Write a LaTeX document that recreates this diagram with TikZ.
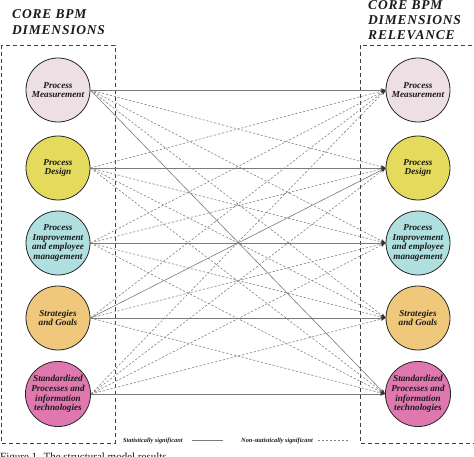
\documentclass[tikz,border=0pt]{standalone}
\usepackage{fontspec}
\setmainfont{Liberation Serif}
\newfontfamily\titlefont[LetterSpace=6]{Liberation Serif}
\usetikzlibrary{arrows.meta}
\definecolor{cMeas}{HTML}{EEDFE5}
\definecolor{cDes}{HTML}{E4DA5E}
\definecolor{cImp}{HTML}{AFDFDF}
\definecolor{cStr}{HTML}{F0C87C}
\definecolor{cStd}{HTML}{DE78AE}
\definecolor{lineg}{HTML}{7A7A7A}
\definecolor{txt}{HTML}{1A1A1A}
\tikzset{
  dim/.style={circle, draw=black!85, line width=0.8pt, minimum size=64pt, inner sep=0pt,
    align=center, font=\bfseries\itshape\fontsize{9.2}{9.6}\selectfont, text=txt},
  sig/.style={draw=lineg, line width=0.6pt, -{Stealth[length=5pt,width=3.5pt,color=black!80]}},
  nsig/.style={sig, draw=black!50, dash pattern=on 2.2pt off 1.8pt},
  dimbox/.style={draw=black!75, line width=0.6pt, dash pattern=on 4pt off 3pt},
  ttl/.style={font=\titlefont\bfseries\itshape\fontsize{13.5}{16}\selectfont, text=txt, inner sep=0pt, anchor=base west},
  leg/.style={font=\bfseries\itshape\fontsize{6.3}{7}\selectfont, text=txt, inner sep=0pt},
}
\begin{document}
\begin{tikzpicture}[x=1pt,y=-1pt]
\useasboundingbox (0,0) rectangle (474,457);
% boxes
\draw[dimbox] (1,45) rectangle (115,443);
\draw[dimbox] (360,45) rectangle (480,443);
% titles
\node[ttl] (tl1) at (12,19) {CORE BPM};
\node[ttl] (tl2) at (12,35) {DIMENSIONS};
\node[ttl] (tr1) at (368,9.5) {CORE BPM};
\node[ttl] (tr2) at (368,25) {DIMENSIONS};
\node[ttl] (tr3) at (368,40) {RELEVANCE};
% left circles
\node[dim, fill=cMeas] (L1) at (58,90) {Process\\Measurement};
\node[dim, fill=cDes] (L2) at (58,168) {Process\\Design};
\node[dim, fill=cImp] (L3) at (58,243) {Process\\Improvement\\and employee\\management};
\node[dim, fill=cStr] (L4) at (58,318) {Strategies\\and Goals};
\node[dim, fill=cStd] (L5) at (58,394) {Standardized\\Processes and\\information\\technologies};
% right circles
\node[dim, fill=cMeas] (R1) at (418,90) {Process\\Measurement};
\node[dim, fill=cDes] (R2) at (418,168) {Process\\Design};
\node[dim, fill=cImp] (R3) at (418,243) {Process\\Improvement\\and employee\\management};
\node[dim, fill=cStr] (R4) at (418,318) {Strategies\\and Goals};
\node[dim, fill=cStd] (R5) at (418,394) {Standardized\\Processes and\\information\\technologies};
% non-significant
\foreach \a/\b in {1/2,1/3,1/4, 2/1,2/3,2/4,2/5, 3/1,3/2,3/4,3/5, 4/1,4/3,4/5, 5/1,5/2,5/3,5/4}
  \draw[nsig] (L\a.east) -- (R\b.west);
% significant
\foreach \a/\b in {1/1,2/2,3/3,4/4,5/5,1/5,4/2}
  \draw[sig] (L\a.east) -- (R\b.west);
% legend
\node[leg, anchor=base west] (ls) at (123,442) {Statistically significant};
\coordinate (ls1) at (192,440);
\coordinate (ls2) at (223,440);
\draw[draw=lineg, line width=0.6pt] (ls1) -- (ls2);
\node[leg, anchor=base west] (ln) at (241,442) {Non-statistically significant};
\coordinate (ln1) at (318,440);
\coordinate (ln2) at (350,440);
\draw[draw=black!50, line width=0.6pt, dash pattern=on 2.2pt off 1.8pt] (ln1) -- (ln2);
% caption (cut by the page edge, as in the reference)
\node[font=\fontsize{11}{13}\selectfont, text=txt, inner sep=0pt, anchor=base west] (cap) at (0,460) {Figure 1. The structural model results};
\end{tikzpicture}
\end{document}
